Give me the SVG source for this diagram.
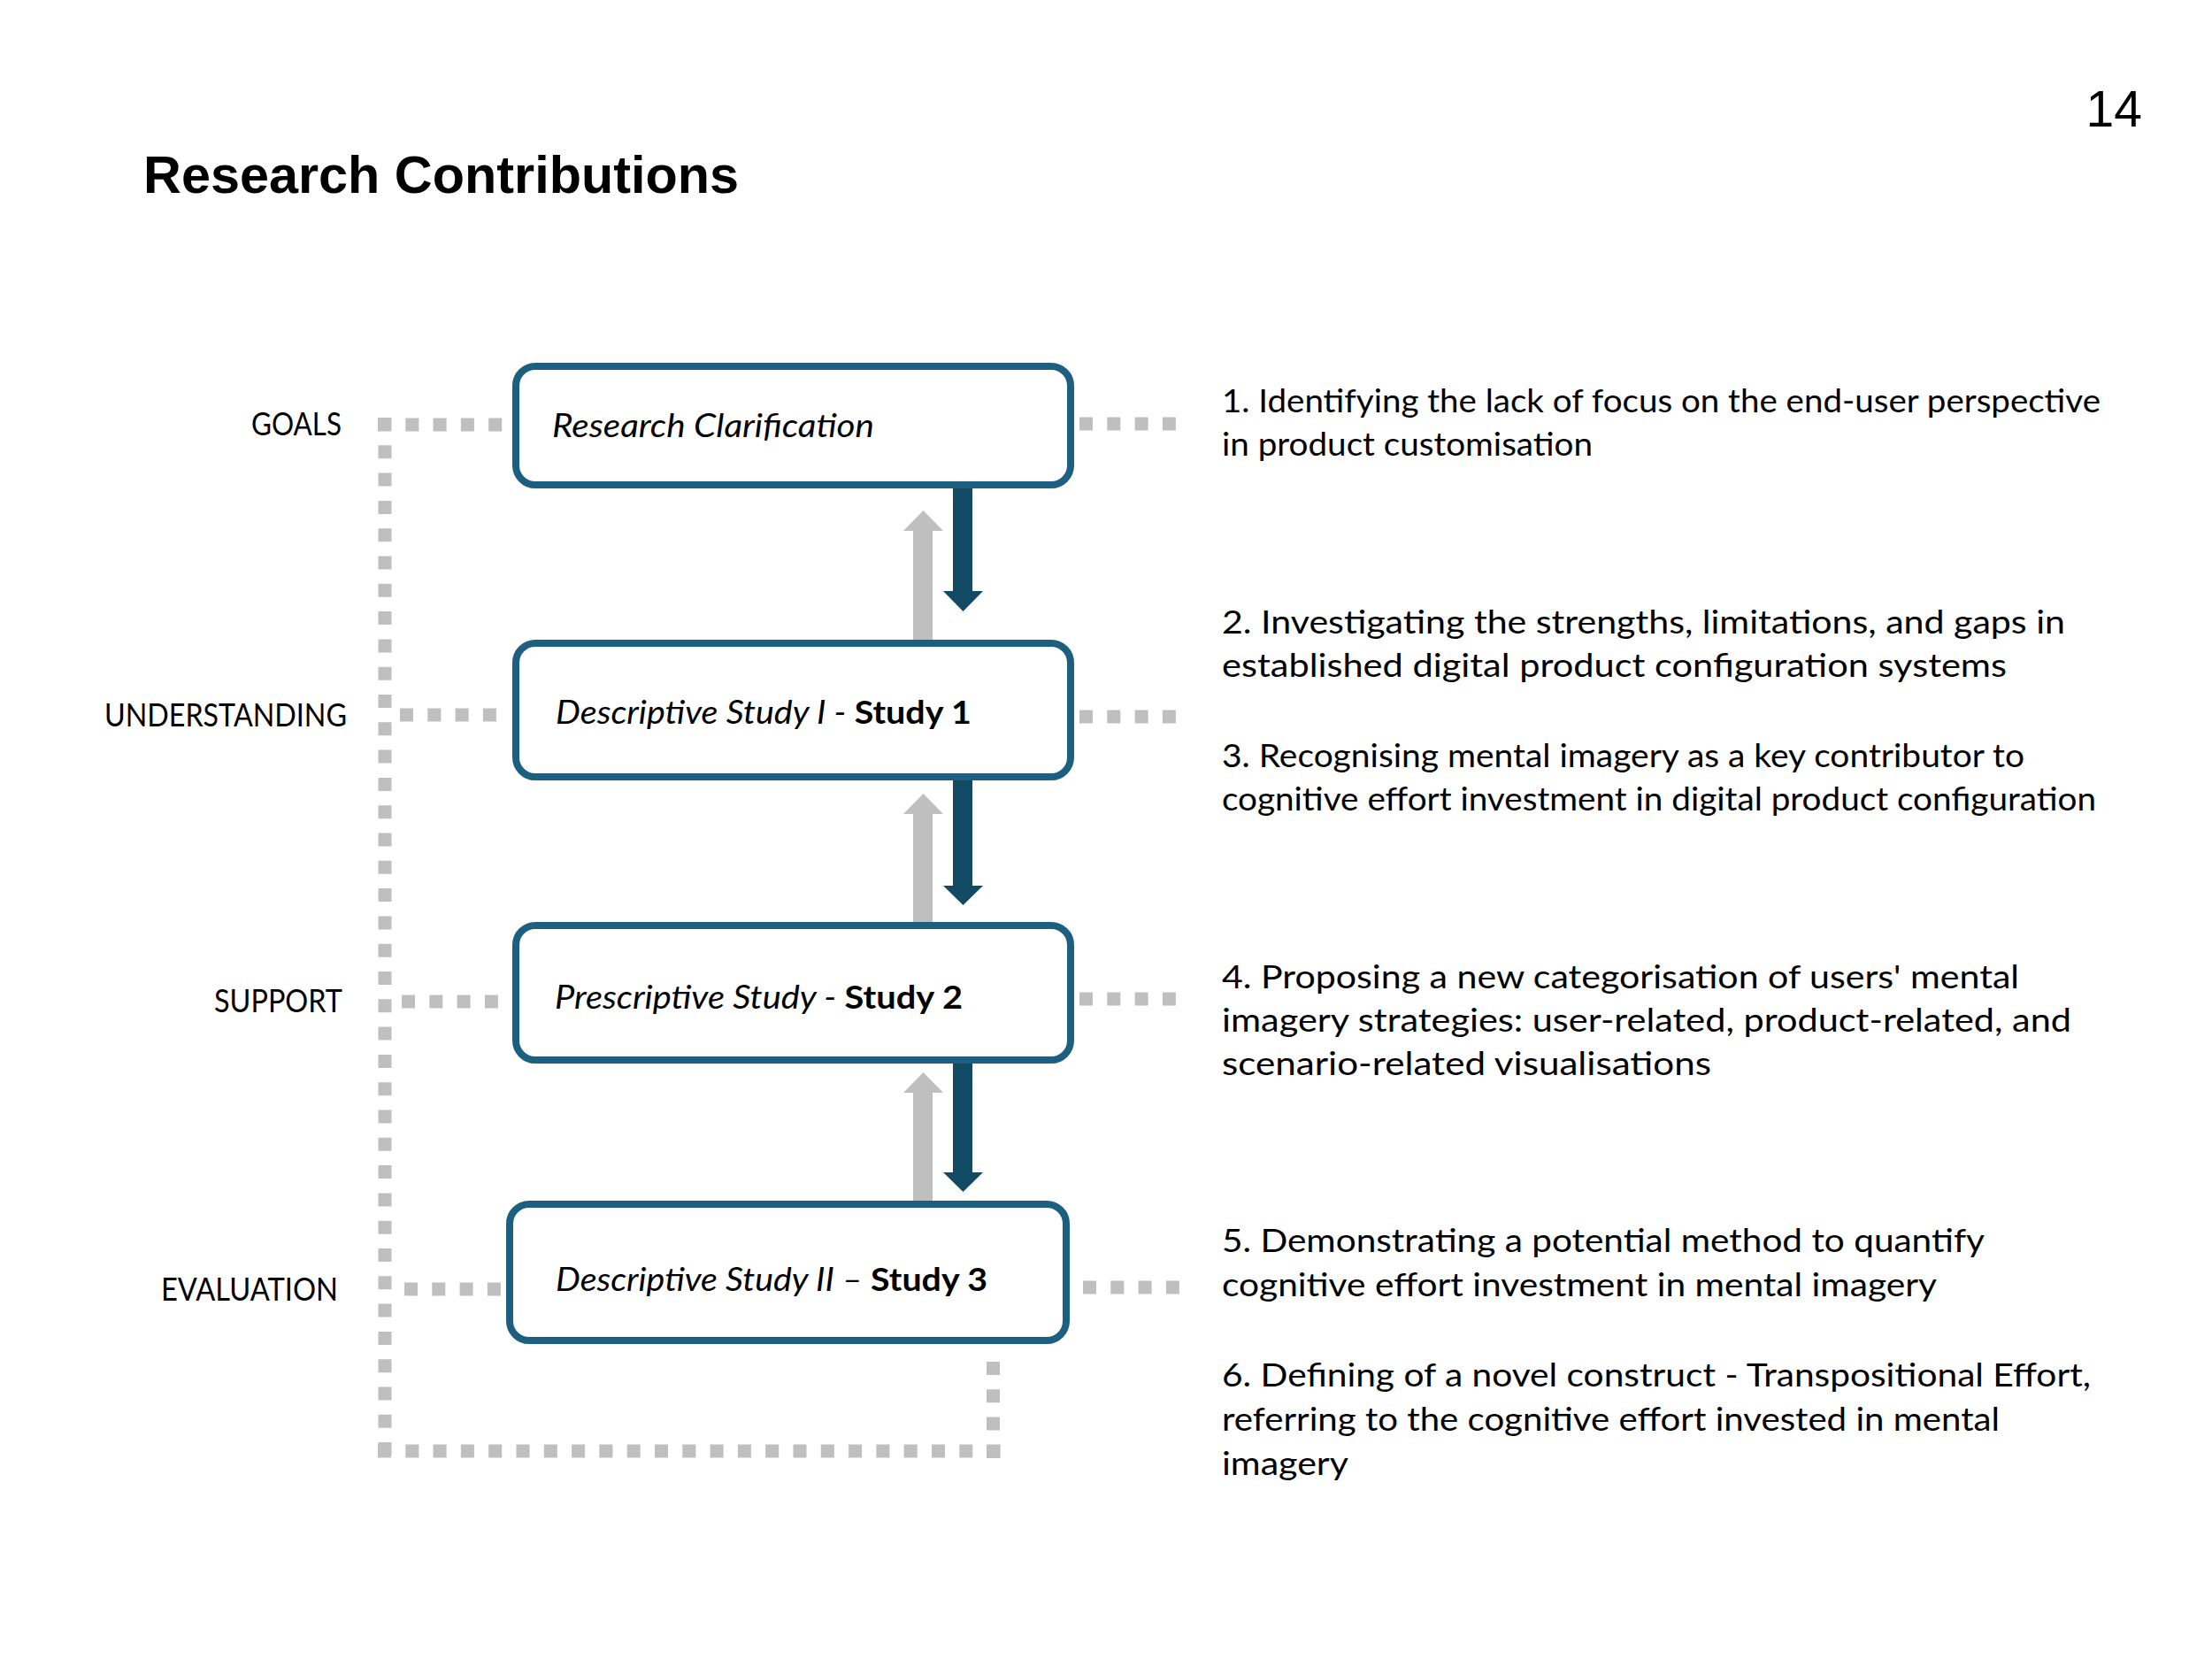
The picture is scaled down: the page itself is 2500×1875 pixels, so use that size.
<svg xmlns="http://www.w3.org/2000/svg" width="2500" height="1875" viewBox="0 0 2500 1875">
<style>
.bg{fill:#ffffff}
.box{fill:#ffffff;stroke:#1c5f80;stroke-width:8}
.lbl{font-family:Lato,"Open Sans",sans-serif;font-size:36px;fill:#000}
.bt{font-family:Lato,"Open Sans",sans-serif;font-size:37px;fill:#000;font-style:italic}
.bt .b{font-style:normal;font-weight:bold}
.rt{font-family:Lato,"Open Sans",sans-serif;font-size:37px;fill:#000}
.dot{fill:none;stroke:#bfbfbf;stroke-width:15;stroke-dasharray:15 16.3}
.dk{fill:#134a63}
.gy{fill:#bfbfbf}
</style>
<rect class="bg" x="0" y="0" width="2500" height="1875"/>
<text x="162" y="218" font-family="'Liberation Sans',Arial,sans-serif" font-weight="bold" font-size="59" textLength="673" lengthAdjust="spacingAndGlyphs">Research Contributions</text>
<text x="2421" y="143" text-anchor="end" font-family="'Liberation Sans',Arial,sans-serif" font-size="57">14</text>

<g id="connectors">
  <!-- dotted frame -->
  <line class="dot" x1="435" y1="472" x2="435" y2="1648"/>
  <line class="dot" x1="427" y1="1640" x2="1131" y2="1640"/>
  <line class="dot" x1="1122.5" y1="1539" x2="1122.5" y2="1648"/>
  <!-- row dotted links left -->
  <line class="dot" x1="427" y1="480" x2="568" y2="480"/>
  <line class="dot" x1="452" y1="808" x2="562" y2="808"/>
  <line class="dot" x1="454" y1="1132" x2="564" y2="1132"/>
  <line class="dot" x1="457" y1="1457" x2="567" y2="1457"/>
  <!-- row dotted links right -->
  <line class="dot" x1="1220" y1="479" x2="1330" y2="479"/>
  <line class="dot" x1="1220" y1="810" x2="1330" y2="810"/>
  <line class="dot" x1="1220" y1="1129" x2="1330" y2="1129"/>
  <line class="dot" x1="1224" y1="1455" x2="1334" y2="1455"/>
  <!-- up arrows (grey) -->
  <path class="gy" d="M1032,725 V600 H1021 L1043.5,577 L1066,600 H1054 V725 Z"/>
  <path class="gy" d="M1032,1044 V920 H1021 L1043.5,897 L1066,920 H1054 V1044 Z"/>
  <path class="gy" d="M1032,1359 V1235 H1021 L1043.5,1212 L1066,1235 H1054 V1359 Z"/>
  <!-- down arrows (dark) -->
  <path class="dk" d="M1077,550 V668 H1066 L1088.5,691 L1111,668 H1099 V550 Z"/>
  <path class="dk" d="M1077,880 V1001 H1066 L1088.5,1023 L1111,1001 H1099 V880 Z"/>
  <path class="dk" d="M1077,1200 V1325 H1066 L1088.5,1347 L1111,1325 H1099 V1200 Z"/>
</g>

<g id="node-research-clarification">
  <rect class="box" x="583" y="414" width="627" height="134" rx="22"/>
  <text class="bt" x="624" y="494" textLength="364" lengthAdjust="spacingAndGlyphs">Research Clarification</text>
</g>
<g id="node-study1">
  <rect class="box" x="583" y="727" width="627" height="151" rx="22"/>
  <text class="bt" x="628" y="818" textLength="470" lengthAdjust="spacingAndGlyphs">Descriptive Study I - <tspan class="b">Study 1</tspan></text>
</g>
<g id="node-study2">
  <rect class="box" x="583" y="1046" width="627" height="152" rx="22"/>
  <text class="bt" x="627" y="1140" textLength="461" lengthAdjust="spacingAndGlyphs">Prescriptive Study - <tspan class="b">Study 2</tspan></text>
</g>
<g id="node-study3">
  <rect class="box" x="576" y="1361" width="629" height="154" rx="22"/>
  <text class="bt" x="628" y="1459" textLength="488" lengthAdjust="spacingAndGlyphs">Descriptive Study II – <tspan class="b">Study 3</tspan></text>
</g>

<g id="labels">
  <text class="lbl" x="284" y="492" textLength="102" lengthAdjust="spacingAndGlyphs">GOALS</text>
  <text class="lbl" x="118" y="821" textLength="274" lengthAdjust="spacingAndGlyphs">UNDERSTANDING</text>
  <text class="lbl" x="242" y="1144" textLength="145" lengthAdjust="spacingAndGlyphs">SUPPORT</text>
  <text class="lbl" x="182" y="1470" textLength="200" lengthAdjust="spacingAndGlyphs">EVALUATION</text>
</g>

<g id="contributions">
  <text class="rt" x="1381" y="466" textLength="993" lengthAdjust="spacingAndGlyphs">1. Identifying the lack of focus on the end-user perspective</text>
  <text class="rt" x="1381" y="515" textLength="419" lengthAdjust="spacingAndGlyphs">in product customisation</text>
  <text class="rt" x="1381" y="716" textLength="953" lengthAdjust="spacingAndGlyphs">2. Investigating the strengths, limitations, and gaps in</text>
  <text class="rt" x="1381" y="765" textLength="887" lengthAdjust="spacingAndGlyphs">established digital product configuration systems</text>
  <text class="rt" x="1381" y="867" textLength="907" lengthAdjust="spacingAndGlyphs">3. Recognising mental imagery as a key contributor to</text>
  <text class="rt" x="1381" y="916" textLength="988" lengthAdjust="spacingAndGlyphs">cognitive effort investment in digital product configuration</text>
  <text class="rt" x="1381" y="1117" textLength="901" lengthAdjust="spacingAndGlyphs">4. Proposing a new categorisation of users' mental</text>
  <text class="rt" x="1381" y="1166" textLength="960" lengthAdjust="spacingAndGlyphs">imagery strategies: user-related, product-related, and</text>
  <text class="rt" x="1381" y="1215" textLength="553" lengthAdjust="spacingAndGlyphs">scenario-related visualisations</text>
  <text class="rt" x="1381" y="1415" textLength="862" lengthAdjust="spacingAndGlyphs">5. Demonstrating a potential method to quantify</text>
  <text class="rt" x="1381" y="1465" textLength="808" lengthAdjust="spacingAndGlyphs">cognitive effort investment in mental imagery</text>
  <text class="rt" x="1381" y="1567" textLength="982" lengthAdjust="spacingAndGlyphs">6. Defining of a novel construct - Transpositional Effort,</text>
  <text class="rt" x="1381" y="1617" textLength="879" lengthAdjust="spacingAndGlyphs">referring to the cognitive effort invested in mental</text>
  <text class="rt" x="1381" y="1667" textLength="143" lengthAdjust="spacingAndGlyphs">imagery</text>
</g>
</svg>
